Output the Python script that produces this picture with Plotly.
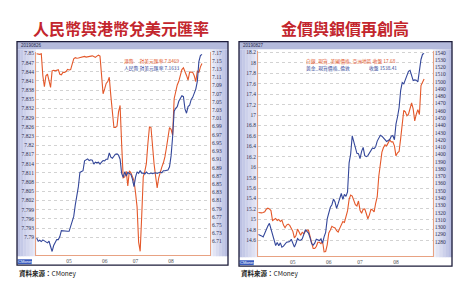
import plotly.graph_objects as go
import pandas as pd

W, H = 464, 283

# ---------------- data ----------------
hk_dates = pd.bdate_range("2019-04-02", periods=108).strftime("%Y-%m-%d").tolist()
metal_dates = pd.bdate_range("2019-04-01", periods=107).strftime("%Y-%m-%d").tolist()

hkd = [7.8499, 7.8498, 7.8497, 7.8499, 7.8427, 7.8391, 7.8427, 7.8432, 7.8414, 7.8389,
       7.8443, 7.8445, 7.8443, 7.8445, 7.8447, 7.8432, 7.8430, 7.8438, 7.8438, 7.8441,
       7.8448, 7.8446, 7.8447, 7.8465, 7.8482, 7.8486, 7.8484, 7.8485, 7.8486, 7.8487,
       7.8488, 7.8490, 7.8488, 7.8489, 7.8490, 7.8490, 7.8492, 7.8490, 7.8487, 7.8491,
       7.8494, 7.8491, 7.8438, 7.8368, 7.8384, 7.8402, 7.8408, 7.8422, 7.8362, 7.8312,
       7.8258, 7.8258, 7.8262, 7.8309, 7.8330, 7.8206, 7.8094, 7.8097, 7.8115, 7.8067,
       7.8117, 7.8110, 7.8097, 7.8085, 7.8045, 7.7999, 7.7884, 7.7854, 7.7970, 7.8097,
       7.8115, 7.8140, 7.8206, 7.8260, 7.8258, 7.8180, 7.8139, 7.8099, 7.8061, 7.8094,
       7.8115, 7.8129, 7.8142, 7.8162, 7.8192, 7.8228, 7.8258, 7.8252, 7.8233, 7.8352,
       7.8378, 7.8397, 7.8409, 7.8427, 7.8447, 7.8453, 7.8442, 7.8428, 7.8413, 7.8439,
       7.8439, 7.8438, 7.8427, 7.8408, 7.8443, 7.8437, 7.8456, 7.8467]

cny = [6.7186, 6.7106, 6.7130, 6.7098, 6.7138, 6.7106, 6.7082, 6.7065, 6.7106, 6.7001,
       6.6856, 6.7001, 6.7065, 6.7146, 6.7146, 6.7219, 6.7364, 6.7356, 6.7348, 6.7348,
       6.7348, 6.7348, 6.7468, 6.7630, 6.7710, 6.7992, 6.8178, 6.8436, 6.8782, 6.8798,
       6.8823, 6.9064, 6.9097, 6.9113, 6.9072, 6.9089, 6.9081, 6.8984, 6.9032, 6.9016,
       6.9032, 6.8984, 6.9032, 6.9072, 6.9064, 6.9105, 6.9105, 6.9258, 6.9153, 6.9129,
       6.9177, 6.9226, 6.9234, 6.9202, 6.9105, 6.8758, 6.8661, 6.8798, 6.8693, 6.8782,
       6.8758, 6.8734, 6.8621, 6.8436, 6.8669, 6.8798, 6.8758, 6.8830, 6.8766, 6.8766,
       6.8742, 6.8790, 6.8758, 6.8750, 6.8766, 6.8750, 6.8766, 6.8774, 6.8758, 6.8774,
       6.8790, 6.8774, 6.8823, 6.8823, 6.8839, 6.8839, 6.8919, 6.9185, 6.9645, 7.0273,
       7.0346, 7.0386, 7.0515, 7.0604, 7.0652, 7.0628, 7.0330, 7.0225, 7.0386, 7.0418,
       7.0555, 7.0612, 7.0692, 7.0813, 7.0999, 7.1482, 7.1627, 7.1660]

silver = [15.130, 15.124, 15.124, 15.130, 15.143, 15.194, 15.213, 15.200, 15.168, 14.978,
          15.004, 15.016, 14.978, 14.997, 14.959, 14.985, 14.890, 14.839, 14.890, 14.909,
          14.884, 14.833, 14.770, 14.643, 14.687, 14.814, 14.751, 14.694, 14.751, 14.725,
          14.770, 14.795, 14.789, 14.675, 14.535, 14.441, 14.441, 14.478, 14.561, 14.561,
          14.535, 14.580, 14.377, 14.384, 14.510, 14.738, 14.795, 14.865, 14.846, 14.833,
          14.782, 14.757, 14.827, 14.903, 14.959, 14.941, 15.048, 15.162, 15.384, 15.466,
          15.447, 15.352, 15.282, 15.257, 15.352, 15.175, 15.118, 15.194, 15.200, 15.111,
          15.010, 15.086, 15.194, 15.181, 15.143, 15.308, 15.434, 15.827, 16.130, 16.289,
          16.377, 16.428, 16.409, 16.472, 16.523, 16.485, 16.485, 16.409, 16.219, 16.276,
          16.301, 16.554, 16.801, 17.092, 17.061, 16.985, 17.016, 17.124, 17.232, 17.118,
          16.890, 17.016, 17.105, 17.010, 17.567, 17.630, 17.694]

gold = [1289.8, 1289.3, 1288.0, 1286.6, 1292.0, 1297.0, 1301.5, 1305.2, 1297.0, 1288.9,
        1282.1, 1274.8, 1278.9, 1274.4, 1278.5, 1272.6, 1273.9, 1276.2, 1279.4, 1279.8,
        1280.3, 1283.4, 1277.5, 1272.6, 1278.0, 1284.3, 1282.1, 1282.1, 1283.9, 1291.6,
        1296.1, 1294.3, 1292.0, 1285.7, 1277.5, 1275.3, 1278.0, 1283.4, 1283.0, 1281.6,
        1283.9, 1278.0, 1286.6, 1292.9, 1311.5, 1319.2, 1327.3, 1330.9, 1338.6, 1334.6,
        1326.0, 1332.3, 1338.2, 1346.3, 1338.2, 1345.0, 1342.3, 1348.6, 1388.4, 1400.6,
        1425.5, 1417.8, 1408.8, 1401.5, 1401.1, 1394.3, 1404.3, 1409.7, 1398.4, 1397.0,
        1398.4, 1401.5, 1404.3, 1408.8, 1407.9, 1410.6, 1418.3, 1423.3, 1426.4, 1425.1,
        1422.8, 1420.1, 1417.8, 1419.2, 1420.5, 1425.1, 1426.0, 1420.1, 1441.8, 1451.8,
        1464.4, 1488.0, 1498.8, 1497.0, 1502.0, 1507.0, 1514.2, 1515.6, 1509.7, 1501.5,
        1502.4, 1502.0, 1499.7, 1519.6, 1530.5, 1537.7, 1538.6]

month_ticks_hk = ["2019-05-01", "2019-06-03", "2019-07-01", "2019-08-01"]
month_ticks_metal = ["2019-05-01", "2019-06-03", "2019-07-01", "2019-08-01"]
month_labels = ["05", "06", "07", "08"]

hkd_labels = ["7.79", "7.793", "7.796", "7.799", "7.802", "7.805", "7.808", "7.811", "7.814",
              "7.817", "7.82", "7.823", "7.826", "7.829", "7.832", "7.835", "7.838", "7.841",
              "7.844", "7.847", "7.85"]
cny_labels = ["6.71", "6.73", "6.75", "6.77", "6.79", "6.81", "6.83", "6.85", "6.87", "6.89",
              "6.91", "6.93", "6.95", "6.97", "6.99", "7.01", "7.03", "7.05", "7.07", "7.09",
              "7.11", "7.13", "7.15", "7.17"]
silver_labels = ["14.6", "14.8", "15", "15.2", "15.4", "15.6", "15.8", "16", "16.2", "16.4",
                 "16.6", "16.8", "17", "17.2", "17.4", "17.6", "17.8", "18", "18.2"]
gold_labels = ["1280", "1290", "1300", "1310", "1320", "1330", "1340", "1350", "1360", "1370",
               "1380", "1390", "1400", "1410", "1420", "1430", "1440", "1450", "1460", "1470",
               "1480", "1490", "1500", "1510", "1520", "1530", "1540"]

# ---------------- style ----------------
ORANGE = "#e4582a"
BLUE = "#34479a"
RED_TITLE = "#c3262d"
PLOT_LINE = "#e8a283"
GRID = "#d2d2d2"
TICKFONT = dict(family="Liberation Serif", size=5.5, color="#2e2e50")


def fx(x):
    return x / W


def fy(y):
    return 1 - y / H


def rect(x0, y0, x1, y1, fill, line=None, lw=0, layer="below"):
    return dict(type="rect", xref="paper", yref="paper",
                x0=fx(x0), x1=fx(x1), y0=fy(y1), y1=fy(y0),
                fillcolor=fill, line=dict(color=line or fill, width=lw), layer=layer)


def mix(c1, c2, t):
    a = [int(c1[i:i + 2], 16) for i in (1, 3, 5)]
    b = [int(c2[i:i + 2], 16) for i in (1, 3, 5)]
    return "#" + "".join("%02x" % round(a[k] + (b[k] - a[k]) * t) for k in range(3))


fig = go.Figure()
fig.add_trace(go.Scatter(x=hk_dates, y=hkd, xaxis="x", yaxis="y", mode="lines",
                         line=dict(color=ORANGE, width=1.1), showlegend=False))
fig.add_trace(go.Scatter(x=hk_dates, y=cny, xaxis="x", yaxis="y2", mode="lines",
                         line=dict(color=BLUE, width=1.1), showlegend=False))
fig.add_trace(go.Scatter(x=metal_dates, y=silver, xaxis="x2", yaxis="y3", mode="lines",
                         line=dict(color=ORANGE, width=1.1), showlegend=False))
fig.add_trace(go.Scatter(x=metal_dates, y=gold, xaxis="x2", yaxis="y4", mode="lines",
                         line=dict(color=BLUE, width=1.1), showlegend=False))

panels = [
    # frame x0, y0, x1, y1, plot x0, y0, x1, y1, date
    (17, 39, 228, 265, 36, 50, 210, 255, "20190826"),
    (239, 39, 452, 266, 258, 49, 432.7, 256, "20190827"),
]

shapes = []
annotations = []
for (X0, Y0, X1, Y1, p0, q0, p1, q1, dstr) in panels:
    shapes.append(rect(X0, Y0, X1, Y0 + 8, "#b4badc"))
    n = 6
    wl = (p0 - X0) / n
    for k in range(n):
        shapes.append(rect(X0 + k * wl, Y0 + 8, X0 + (k + 1) * wl + 0.3, q1 + 1,
                           mix("#bcc1e3", "#e6e8f6", k / (n - 1))))
    wr = (X1 - p1) / n
    for k in range(n):
        shapes.append(rect(p1 + k * wr, Y0 + 8, p1 + (k + 1) * wr + 0.3, q1 + 1,
                           mix("#eceef8", "#b9bee2", k / (n - 1))))
    shapes.append(rect(p0, Y0 + 8, p1, q0, "#ffffff"))
    shapes.append(rect(X0 + 0.5, Y1 - 6, X0 + 15, Y1 - 1, "#3a5cbf", layer="above"))
    annotations.append(dict(text="CMoney", x=fx(X0 + 8), y=fy(Y1 - 3.5), xref="paper", yref="paper",
                            xanchor="center", yanchor="middle", showarrow=False,
                            font=dict(family="Liberation Sans", size=4, color="#ffffff")))
    shapes.append(dict(type="rect", xref="paper", yref="paper", x0=fx(X0), x1=fx(X1), y0=fy(Y1), y1=fy(Y0),
                       line=dict(color="#1c1c3a", width=1.3), fillcolor="rgba(0,0,0,0)", layer="above"))
    annotations.append(dict(text=dstr, x=fx(X0 + 2), y=fy(Y0 + 4), xref="paper", yref="paper",
                            xanchor="left", yanchor="middle", showarrow=False,
                            font=dict(family="Liberation Sans", size=4.5, color="#2a2a4a")))
    annotations.append(dict(text="<b>資料來源：</b>CMoney", x=fx(X0), y=fy(273), xref="paper", yref="paper",
                            xanchor="left", yanchor="middle", showarrow=False,
                            font=dict(family="Noto Sans CJK TC", size=6.5, color="#222222")))

annotations.append(dict(text="<b>人民幣與港幣兌美元匯率</b>", x=fx(121.5), y=fy(25), xref="paper", yref="paper",
                        xanchor="center", yanchor="middle", showarrow=False,
                        font=dict(family="Noto Sans CJK TC", size=16, color=RED_TITLE)))
annotations.append(dict(text="<b>金價與銀價再創高</b>", x=fx(344.5), y=fy(25), xref="paper", yref="paper",
                        xanchor="center", yanchor="middle", showarrow=False,
                        font=dict(family="Noto Sans CJK TC", size=16, color=RED_TITLE)))

# in-plot legends
LEGFONT = "Noto Sans CJK TC"
legend_items = [
    ("港幣　 對美元匯率 7.8469", 122, 58.5, ORANGE),
    ("人民幣 對美元匯率 7.1633", 122, 65.5, BLUE),
    ("白銀_現貨_美國價格_亞洲地區 收盤 17.68", 304, 58.5, ORANGE),
    ("黃金_現貨價格_倫敦", 304, 65.5, BLUE),
    ("收盤 1538.41", 367, 65.5, BLUE),
]
for txt, x, y, c in legend_items:
    annotations.append(dict(text=txt, x=fx(x), y=fy(y), xref="paper", yref="paper",
                            xanchor="left", yanchor="middle",
                            showarrow=False, font=dict(family=LEGFONT, size=4.8, color=c)))

xcommon = dict(type="category", showgrid=False, showline=True, linecolor=PLOT_LINE, linewidth=1,
               ticks="", tickfont=dict(family="Liberation Serif", size=5.5, color="#555555"),
               ticktext=month_labels, zeroline=False, fixedrange=True)
ycommon = dict(showline=True, linecolor=PLOT_LINE, linewidth=1, ticks="", zeroline=False,
               tickfont=TICKFONT, fixedrange=True)

fig.update_layout(
    width=W, height=H, margin=dict(l=0, r=0, t=0, b=0),
    paper_bgcolor="#ffffff", plot_bgcolor="#ffffff",
    xaxis=dict(xcommon, domain=[fx(36), fx(210)], anchor="y", range=[-0.43, 112.2],
               tickvals=month_ticks_hk),
    yaxis=dict(ycommon, domain=[fy(255), fy(50)], anchor="x", range=[7.7841, 7.8503],
               tickvals=[float(s) for s in hkd_labels], ticktext=hkd_labels,
               showgrid=True, gridcolor=GRID, gridwidth=0.8, griddash="dot"),
    yaxis2=dict(ycommon, overlaying="y", side="right", anchor="x", range=[6.6763, 7.1705],
                tickvals=[float(s) for s in cny_labels], ticktext=cny_labels, showgrid=False),
    xaxis2=dict(xcommon, domain=[fx(258), fx(432.7)], anchor="y3", range=[-0.3, 111.5],
                tickvals=month_ticks_metal),
    yaxis3=dict(ycommon, domain=[fy(256), fy(49)], anchor="x2", range=[14.291, 18.22],
                tickvals=[float(s) for s in silver_labels], ticktext=silver_labels,
                showgrid=True, gridcolor=GRID, gridwidth=0.8, griddash="dot"),
    yaxis4=dict(ycommon, overlaying="y3", side="right", anchor="x2", range=[1260.0, 1541.5],
                tickvals=[float(s) for s in gold_labels], ticktext=gold_labels, showgrid=False),
    shapes=shapes,
    annotations=annotations,
)

fig.write_html("out.html")
